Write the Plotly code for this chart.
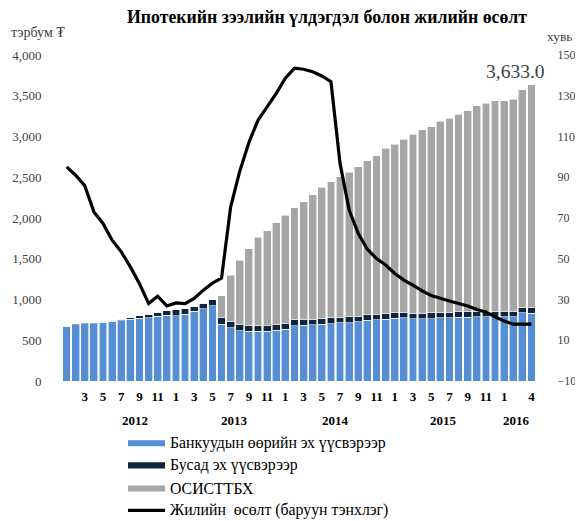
import plotly.graph_objects as go

# ---- data ----
years = [2012] * 12 + [2013] * 12 + [2014] * 12 + [2015] * 12 + [2016] * 4
months = list(range(1, 13)) * 4 + [1, 2, 3, 4]
categories = [f"{y}-{m:02d}" for y, m in zip(years, months)]

# Month tick labels (every other month + last)
tick_months = ["3", "5", "7", "9", "11",
               "1", "3", "5", "7", "9", "11",
               "1", "3", "5", "7", "9", "11",
               "1", "3", "5", "7", "9", "11",
               "1", "4"]
tick_categories = ["2012-03", "2012-05", "2012-07", "2012-09", "2012-11",
                   "2013-01", "2013-03", "2013-05", "2013-07", "2013-09", "2013-11",
                   "2014-01", "2014-03", "2014-05", "2014-07", "2014-09", "2014-11",
                   "2015-01", "2015-03", "2015-05", "2015-07", "2015-09", "2015-11",
                   "2016-01", "2016-04"]
year_labels = ["2012", "2013", "2014", "2015", "2016"]
year_label_pos = [7.5, 18.4, 29.5, 41.4, 49.4]

# Bank own sources (billion MNT)
banks = [672, 692, 701, 701, 721, 732, 742, 759, 770, 778, 795, 808,
         802, 820, 853, 884, 922, 697, 656, 615, 611, 611, 611, 623,
         635, 680, 684, 688, 696, 704, 713, 717, 730, 746, 754, 758,
         770, 774, 762, 762, 766, 774, 778, 783, 783, 787, 787, 786,
         786, 790, 836, 832]
# Other sources
other = [8, 8, 12, 12, 12, 14, 16, 20, 33, 41, 49, 57,
         70, 65, 65, 70, 78, 77, 77, 78, 69, 69, 69, 70,
         74, 70, 70, 70, 70, 70, 70, 70, 65, 70, 65, 70,
         70, 66, 70, 70, 70, 66, 66, 65, 65, 65, 65, 62,
         62, 62, 61, 65]
# Mortgage program (ОСИСТТБХ)
osi = [0] * 17 + [275, 562, 790, 942, 1082, 1163, 1248,
                  1327, 1375, 1445, 1527, 1610, 1671, 1723, 1773, 1834, 1887, 1945, 2027,
                  2064, 2126, 2195, 2248, 2284, 2350, 2379, 2425, 2469, 2523, 2559, 2588,
                  2588, 2605, 2674, 2736]
# Annual growth, % (right axis)
growth = [95.1, 91.0, 85.8, 73.0, 67.3, 59.1, 53.4, 46.0, 37.8, 28.0, 31.6, 26.8,
          28.3, 28.0, 30.5, 34.6, 38.0, 40.5, 75.5, 93.0, 107.0, 118.0, 124.5, 131.2,
          138.6, 143.5, 143.0, 141.8, 139.7, 136.9, 96.8, 73.9, 62.4, 54.6, 50.1, 46.9,
          42.8, 39.5, 37.0, 34.2, 32.0, 30.5, 29.3, 28.0, 26.8, 25.1, 23.9, 21.5,
          19.4, 17.9, 17.9, 17.9]

last_total_label = "3,633.0"

series_names = ["Банкуудын өөрийн эх үүсвэрээр", "Бусад эх үүсвэрээр", "ОСИСТТБХ",
                "Жилийн  өсөлт (баруун тэнхлэг)"]
series_colors = ["#558ED5", "#10243E", "#A6A6A6", "black"]

SERIF = "Liberation Serif, Times New Roman, serif"
GREY_TXT = "#404040"

# ---- layout geometry ----
# The page body has an 8px default margin, so screen positions are offset by 8px.
OFF = 8
W, H = 583 - OFF, 521 - OFF
PL, PR, PT, PB = 62 - OFF, 547 - OFF, 55 - OFF, 380.7 - OFF


def px(xs):
    """screen x (reference pixels) -> paper fraction"""
    return (xs - OFF - PL) / (PR - PL)


def py(ys):
    """screen y (reference pixels) -> paper fraction"""
    return (PB - (ys - OFF)) / (PB - PT)


fig = go.Figure()
for vals, name, col in zip([banks, other, osi], series_names[:3], series_colors[:3]):
    fig.add_trace(go.Bar(x=categories, y=vals, name=name,
                         marker=dict(color=col, line=dict(color="white", width=0.6))))
fig.add_trace(go.Scatter(x=categories, y=growth, name=series_names[3],
                         mode="lines", line=dict(color="black", width=3.2), yaxis="y2"))

annotations = []
for lbl, pos in zip(year_labels, year_label_pos):
    annotations.append(dict(x=pos, y=py(420), xref="x", yref="paper", text=f"<b>{lbl}</b>",
                            showarrow=False, font=dict(family=SERIF, size=13, color="black"),
                            xanchor="center", yanchor="middle"))
annotations.append(dict(x=categories[-1], y=banks[-1] + other[-1] + osi[-1], xref="x", yref="y",
                        text=last_total_label, showarrow=False, xanchor="center", yanchor="bottom",
                        xshift=-16, yshift=1, font=dict(family=SERIF, size=19.5, color=GREY_TXT)))
annotations.append(dict(x=px(9), y=py(33), xref="paper", yref="paper", text="тэрбум ₮",
                        showarrow=False, xanchor="left", yanchor="middle",
                        font=dict(family=SERIF, size=14, color=GREY_TXT)))
annotations.append(dict(x=px(575), y=py(37), xref="paper", yref="paper", text="хувь",
                        showarrow=False, xanchor="right", yanchor="middle",
                        font=dict(family=SERIF, size=13.5, color=GREY_TXT)))

# ---- manual legend (long swatches as in the reference) ----
shapes = []
leg_y = [443, 465, 488, 510]
for i, (name, col, yc) in enumerate(zip(series_names, series_colors, leg_y)):
    if i < 3:
        shapes.append(dict(type="rect", xref="paper", yref="paper",
                           x0=px(128), x1=px(165), y0=py(yc + 3), y1=py(yc - 3),
                           fillcolor=col, line=dict(width=0)))
    else:
        shapes.append(dict(type="line", xref="paper", yref="paper",
                           x0=px(128), x1=px(165), y0=py(yc), y1=py(yc),
                           line=dict(color=col, width=3.2)))
    annotations.append(dict(x=px(168), y=py(yc), xref="paper", yref="paper", text=name,
                            showarrow=False, xanchor="left", yanchor="middle",
                            font=dict(family=SERIF, size=15.8, color="black")))

fig.update_layout(
    width=W, height=H,
    margin=dict(l=PL, r=W - PR, t=PT, b=H - PB, autoexpand=False),
    paper_bgcolor="white", plot_bgcolor="white",
    barmode="stack", bargap=0.14,
    showlegend=False,
    title=dict(text="<b>Ипотекийн зээлийн үлдэгдэл болон жилийн өсөлт</b>",
               x=(327 - OFF) / W, xanchor="center", y=1 - (17 - OFF) / H, yanchor="middle",
               font=dict(family=SERIF, size=17.8, color="black")),
    xaxis=dict(type="category", tickmode="array", tickvals=tick_categories,
               ticktext=[f"<b>{t}</b>" for t in tick_months],
               tickfont=dict(family=SERIF, size=13, color="black"),
               ticks="outside", ticklen=3, tickcolor="rgba(0,0,0,0)",
               showgrid=False, showline=False, zeroline=False, tickangle=0,
               automargin=False),
    yaxis=dict(range=[0, 4000], dtick=500, tickformat=",", showgrid=False, zeroline=False,
               showline=False, ticks="outside", ticklen=17, tickcolor="rgba(0,0,0,0)",
               tickfont=dict(family=SERIF, size=13, color=GREY_TXT), automargin=False),
    yaxis2=dict(range=[-10, 150], tick0=-10, dtick=20, overlaying="y", side="right",
                showgrid=False, zeroline=False, showline=False, ticks="outside", ticklen=7,
                tickcolor="rgba(0,0,0,0)", automargin=False,
                tickfont=dict(family=SERIF, size=12, color=GREY_TXT)),
    annotations=annotations,
    shapes=shapes,
)

fig.write_html("out.html")
